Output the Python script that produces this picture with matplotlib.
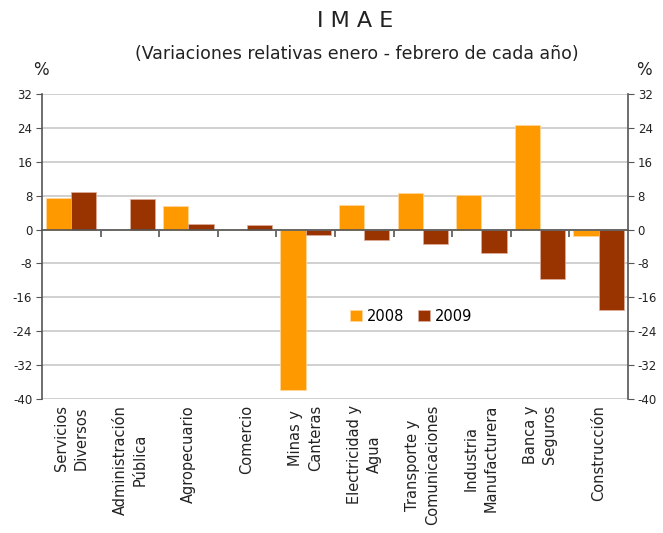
import numpy as np
import matplotlib
matplotlib.use("Agg")
import matplotlib.pyplot as plt
import matplotlib.transforms as mtransforms

# ── Data ─────────────────────────────────────────────
categories = [
    "Servicios\nDiversos", "Administración\nPública", "Agropecuario",
    "Comercio", "Minas y\nCanteras", "Electricidad y\nAgua",
    "Transporte y\nComunicaciones", "Industria\nManufacturera",
    "Banca y\nSeguros", "Construcción",
]
vals_2008 = [7.5, 0.0, 5.5, 0.0, -37.9, 5.9, 8.6, 8.1, 24.6, -1.6]
vals_2009 = [8.9, 7.1, 1.3, 1.0, -1.3, -2.4, -3.5, -5.5, -11.6, -19.1]
yticks = [-40, -32, -24, -16, -8, 0, 8, 16, 24, 32]

C2008 = "#FF9900"
C2009 = "#993300"
AXC = "#555555"
TXT = "#222222"

fig = plt.figure(figsize=(6.63, 5.33), dpi=100)
ax = fig.add_axes([0.0633, 0.2514, 0.8839, 0.5722])

x = np.arange(len(categories))
w = 0.43
ax.bar(x - w / 2, vals_2008, w, color=C2008, edgecolor="#FFD9A0", linewidth=0.5,
       label="2008", zorder=3)
ax.bar(x + w / 2, vals_2009, w, color=C2009, edgecolor="#E0B0A0", linewidth=0.5,
       label="2009", zorder=3)

ax.set_xlim(-0.5, len(categories) - 0.5)
ax.set_ylim(-40, 32)
ax.set_yticks(yticks)
ax.set_yticklabels([str(v) for v in yticks], fontsize=8.5, color=TXT)
ax.yaxis.grid(True, color="#C8C8C8", linewidth=1.2, zorder=0)
ax.tick_params(axis="y", direction="out", length=4, color=AXC,
               left=True, right=True, labelleft=True, labelright=True, pad=3)

# zero axis with tick marks between categories
ax.spines["bottom"].set_position(("data", 0))
ax.spines["bottom"].set_color(AXC)
ax.spines["bottom"].set_linewidth(1.2)
ax.spines["bottom"].set_zorder(4)
ax.spines["top"].set_visible(False)
for s in ("left", "right"):
    ax.spines[s].set_color(AXC)
    ax.spines[s].set_linewidth(1.2)
ax.set_xticks(x[:-1] + 0.5)
ax.set_xticklabels([])
ax.tick_params(axis="x", direction="out", length=5, color=AXC, width=1.2)

# category labels below the plot
trans = mtransforms.blended_transform_factory(ax.transData, ax.transAxes)
for xi, lab in zip(x, categories):
    ax.text(xi, -0.02, lab, transform=trans, rotation=90, ha="center", va="top",
            multialignment="center", fontsize=10.5, linespacing=1.4, color=TXT)

ax.legend(loc="center", bbox_to_anchor=(0.63, 0.272), ncol=2, frameon=False,
          fontsize=10.5, handlelength=0.8, handleheight=0.8, handletextpad=0.3,
          columnspacing=1.0)

fig.text(0.535, 0.96, "I M A E", ha="center", va="center", fontsize=16, color=TXT)
fig.text(0.538, 0.898, "(Variaciones relativas enero - febrero de cada año)",
         ha="center", va="center", fontsize=12.5, color=TXT)
fig.text(0.062, 0.868, "%", ha="center", va="center", fontsize=12, color=TXT)
fig.text(0.972, 0.868, "%", ha="center", va="center", fontsize=12, color=TXT)

fig.savefig("out.png", dpi=100)
